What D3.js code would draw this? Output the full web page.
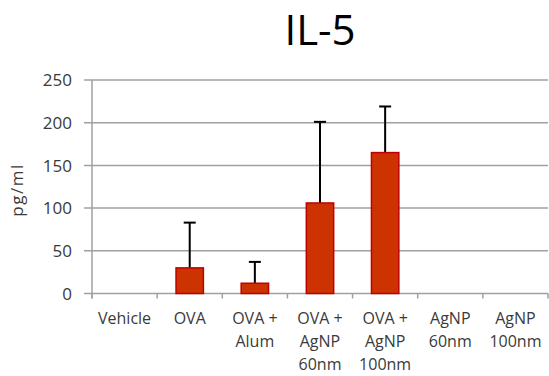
<!DOCTYPE html>
<html>
<head>
<meta charset="utf-8">
<script src="https://cdn.jsdelivr.net/npm/d3@7"></script>
<style>
  body { margin: 0; background: #fff; }
  text { font-family: "Open Sans", sans-serif; fill: #3a3a3a; }
</style>
</head>
<body>
<svg id="chart" width="549" height="376"></svg>
<script>
var groups = [
    ["Vehicle"],
    ["OVA"],
    ["OVA +", "Alum"],
    ["OVA +", "AgNP", "60nm"],
    ["OVA +", "AgNP", "100nm"],
    ["AgNP", "60nm"],
    ["AgNP", "100nm"]
];
var means = [0, 30, 12, 106, 165, 0, 0];
var errors = [0, 53, 25, 95, 54, 0, 0];
var yTicks = [0, 50, 100, 150, 200, 250];

var svg = d3.select("#chart"),
    pLeft = 92, pRight = 548, pTop = 80, pBottom = 293.5;

var x = d3.scaleBand()
          .domain(d3.range(groups.length))
          .range([pLeft, pRight])
          .paddingInner(0.58)
          .paddingOuter(0.29);

var band = d3.scaleBand().domain(d3.range(groups.length)).range([pLeft, pRight]);

var y = d3.scaleLinear().domain([0, 250]).range([pBottom, pTop]);

// grid lines
svg.append("g")
   .selectAll("line")
   .data(yTicks)
   .enter()
   .append("line")
   .attr("x1", pLeft - 8)
   .attr("x2", pRight)
   .attr("y1", d => y(d))
   .attr("y2", d => y(d))
   .attr("stroke", "#a0a0a0")
   .attr("stroke-width", 1.5);

// y axis line
svg.append("line")
   .attr("x1", pLeft).attr("x2", pLeft)
   .attr("y1", pTop).attr("y2", pBottom + 5)
   .attr("stroke", "#a0a0a0").attr("stroke-width", 1.5);

// category ticks
svg.append("g")
   .selectAll("line")
   .data(d3.range(groups.length + 1))
   .enter()
   .append("line")
   .attr("x1", i => i < groups.length ? band(i) : pRight)
   .attr("x2", i => i < groups.length ? band(i) : pRight)
   .attr("y1", pBottom)
   .attr("y2", pBottom + 5)
   .attr("stroke", "#a0a0a0").attr("stroke-width", 1.5);

// y tick labels
svg.append("g")
   .selectAll("text")
   .data(yTicks)
   .enter()
   .append("text")
   .attr("x", pLeft - 20)
   .attr("y", d => y(d))
   .attr("dy", "0.36em")
   .attr("text-anchor", "end")
   .style("font-size", "17px")
   .text(d => d);

// error bars
var err = svg.append("g")
             .selectAll("g")
             .data(means.map((m, i) => ({i: i, m: m, e: errors[i]})).filter(d => d.m > 0))
             .enter()
             .append("g")
             .attr("stroke", "#000")
             .attr("stroke-width", 2);

err.append("line")
   .attr("x1", d => x(d.i) + x.bandwidth() / 2)
   .attr("x2", d => x(d.i) + x.bandwidth() / 2)
   .attr("y1", d => y(d.m))
   .attr("y2", d => y(d.m + d.e));

err.append("line")
   .attr("x1", d => x(d.i) + x.bandwidth() / 2 - 6)
   .attr("x2", d => x(d.i) + x.bandwidth() / 2 + 6)
   .attr("y1", d => y(d.m + d.e))
   .attr("y2", d => y(d.m + d.e));

// bars
svg.append("g")
   .selectAll("rect")
   .data(means.map((m, i) => ({i: i, m: m})).filter(d => d.m > 0))
   .enter()
   .append("rect")
   .attr("x", d => x(d.i))
   .attr("y", d => y(d.m))
   .attr("width", x.bandwidth())
   .attr("height", d => pBottom - y(d.m))
   .attr("fill", "#cc3300")
   .attr("stroke", "#c00000")
   .attr("stroke-width", 1.5);

// x labels
var lab = svg.append("g")
             .selectAll("text")
             .data(groups)
             .enter()
             .append("text")
             .attr("x", (d, i) => band(i) + band.bandwidth() / 2)
             .attr("y", 324)
             .attr("text-anchor", "middle")
             .style("font-size", "16px");

lab.selectAll("tspan")
   .data(d => d)
   .enter()
   .append("tspan")
   .attr("x", function() { return d3.select(this.parentNode).attr("x"); })
   .attr("dy", (d, j) => j === 0 ? 0 : 23)
   .text(d => d);

// title
svg.append("text")
   .attr("x", (pLeft + pRight) / 2)
   .attr("y", 45)
   .attr("text-anchor", "middle")
   .style("font-size", "42px")
   .style("fill", "#000")
   .text("IL-5");

// y axis title
svg.append("text")
   .attr("transform", "translate(23,190) rotate(-90)")
   .attr("text-anchor", "middle")
   .style("font-size", "17px")
   .style("letter-spacing", "1.5px")
   .text("pg/ml");
</script>
</body>
</html>
